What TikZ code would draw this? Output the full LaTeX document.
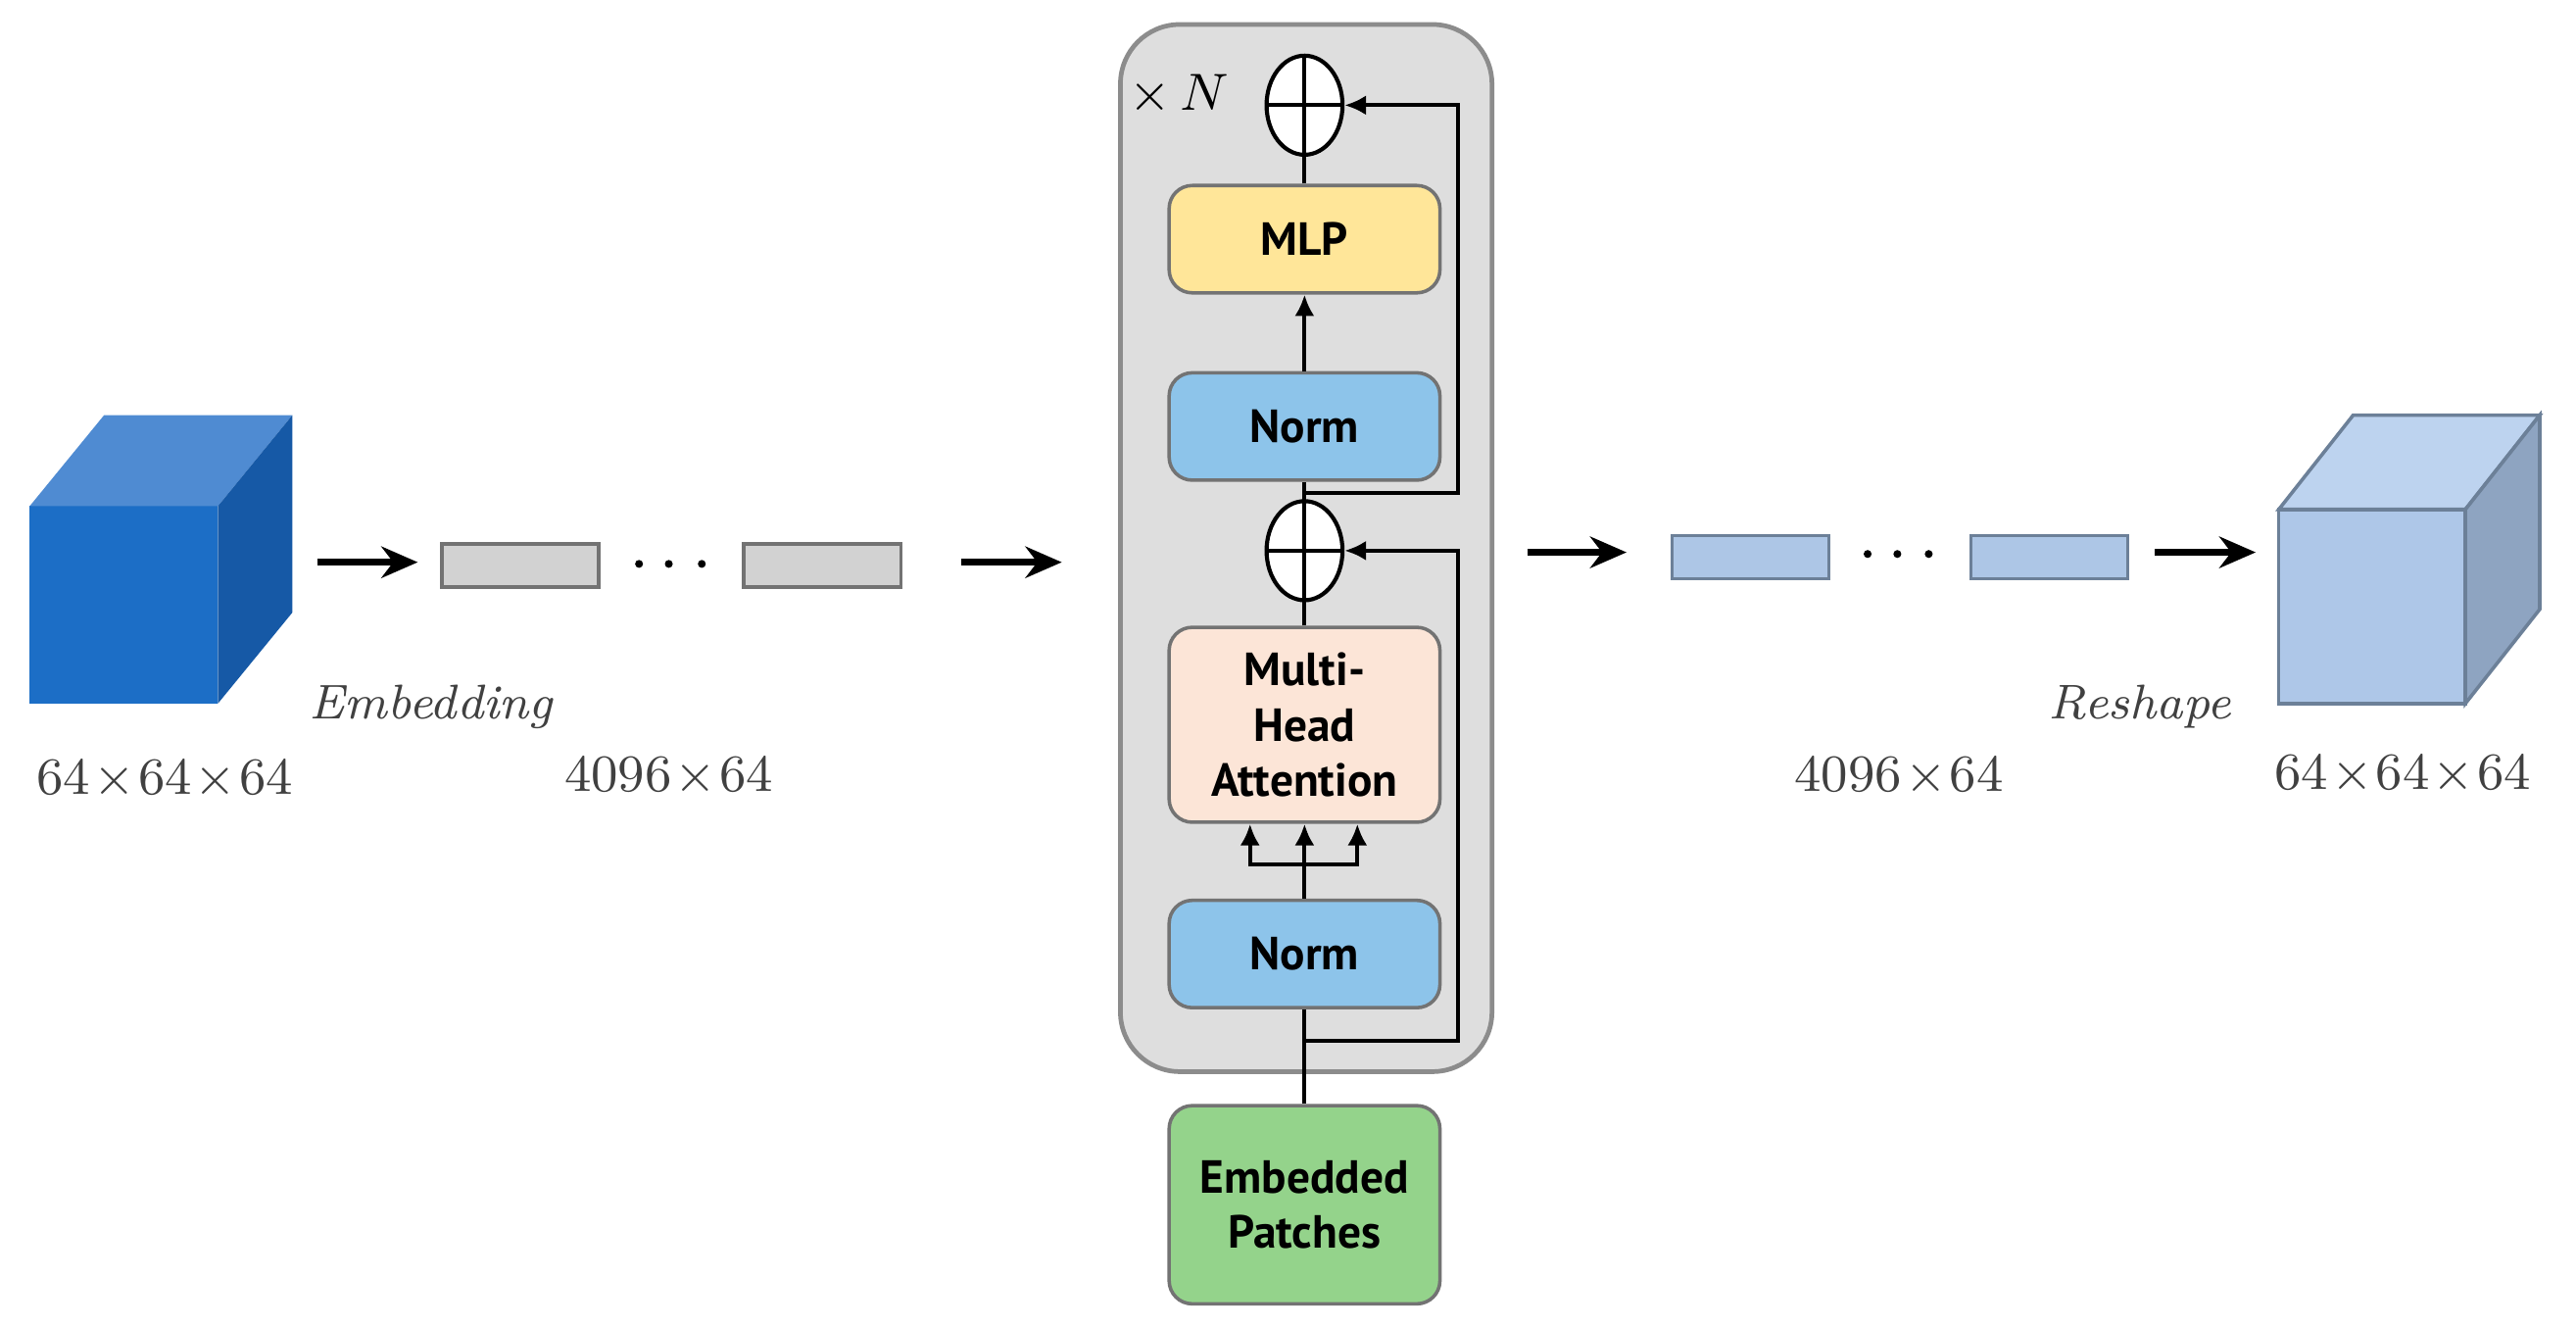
\documentclass[tikz,border=0pt]{standalone}
\usepackage{fontspec}
\newfontfamily\boxfont{PT Sans}
\usetikzlibrary{arrows.meta,shapes.geometric}
\definecolor{cubeFront}{HTML}{1C6EC6}
\definecolor{cubeTop}{HTML}{4F8BD2}
\definecolor{cubeSide}{HTML}{1659A6}
\definecolor{lcubeFront}{HTML}{AEC7E8}
\definecolor{lcubeTop}{HTML}{BDD3EF}
\definecolor{lcubeSide}{HTML}{8EA4C1}
\definecolor{lcubeEdge}{HTML}{6C8098}
\definecolor{barGray}{HTML}{D2D2D2}
\definecolor{barBlue}{HTML}{ADC6E6}
\definecolor{encGray}{HTML}{DEDEDE}
\definecolor{mlpYellow}{HTML}{FFE699}
\definecolor{normBlue}{HTML}{8DC4EA}
\definecolor{mhaPeach}{HTML}{FCE5D7}
\definecolor{embGreen}{HTML}{94D38B}
\begin{document}
\begin{tikzpicture}[x=1cm,y=1cm,
	layer/.style={draw=black!55,line width=0.6pt,rounded corners=0.14cm,minimum width=1.64cm,
		minimum height=0.65cm,align=center,inner sep=0pt,
		font=\boxfont\bfseries\fontsize{8}{9.6}\selectfont},
	addop/.style={ellipse,draw,fill=white,line width=0.7pt,minimum width=0.46cm,minimum height=0.60cm,inner sep=0pt},
	flow/.style={-{Stealth[length=2.2mm,width=1.9mm]},line width=1.1pt},
	link/.style={line width=0.7pt},
	linkarr/.style={link,-{Latex[length=1.3mm,width=1.2mm]}},
	graybar/.style={draw=black!55,fill=barGray,line width=0.6pt,minimum width=0.95cm,minimum height=0.26cm,inner sep=0pt},
	bluebar/.style={draw=lcubeEdge,fill=barBlue,line width=0.6pt,minimum width=0.95cm,minimum height=0.26cm,inner sep=0pt},
	lbl/.style={font=\fontsize{9}{11}\selectfont,text=black!75},
	ilbl/.style={font=\fontsize{8.4}{10}\selectfont\itshape,text=black!75}]
	\useasboundingbox (0,0) rectangle (15.6,8.034);
	\def\dx{0.45}
	\def\dy{0.55}
	% input volume
	\fill[cubeFront] (0.18,3.775) rectangle (1.32,4.97);
	\fill[cubeTop] (0.18,4.97) -- ++(\dx,\dy) -- ++(1.14,0) -- (1.32,4.97) -- cycle;
	\fill[cubeSide] (1.32,3.775) -- (1.32,4.97) -- ++(\dx,\dy) -- ++(0,-1.195) -- cycle;
	\node[lbl] (inDim) at (1.00,3.31) {$64\!\times\!64\!\times\!64$};
	\node[ilbl] (embLbl) at (2.61,3.755) {Embedding};
	\coordinate (a1s) at (1.92,4.63);
	\coordinate (a1e) at (2.53,4.63);
	\draw[flow] (a1s) -- (a1e);
	\node[graybar] (tok1) at (3.15,4.61) {};
	\node[graybar] (tok2) at (4.98,4.61) {};
	\foreach \x in {3.87,4.05,4.25} \fill (\x,4.62) circle (0.024);
	\node[lbl] (tokDim) at (4.05,3.33) {$4096\!\times\!64$};
	\coordinate (a2s) at (5.82,4.63);
	\coordinate (a2e) at (6.43,4.63);
	\draw[flow] (a2s) -- (a2e);
	% transformer encoder
	\node[draw=black!45,fill=encGray,line width=0.8pt,rounded corners=0.36cm,minimum width=2.25cm,
		minimum height=6.34cm] (enc) at (7.91,4.716) {};
	\node[font=\fontsize{9}{11}\selectfont] (rep) at (7.14,7.46) {$\times\,N$};
	\node[layer,fill=embGreen,minimum height=1.2cm] (emb) at (7.90,0.74) {Embedded\\Patches};
	\node[layer,fill=normBlue] (norm1) at (7.90,2.258) {Norm};
	\node[layer,fill=mhaPeach,minimum height=1.18cm] (mha) at (7.90,3.646) {Multi-\\Head\\Attention};
	\node[addop] (add1) at (7.90,4.70) {};
	\node[layer,fill=normBlue] (norm2) at (7.90,5.452) {Norm};
	\node[layer,fill=mlpYellow] (mlp) at (7.90,6.586) {MLP};
	\node[addop] (add2) at (7.90,7.397) {};
	\draw[link] (add1.north) -- (add1.south) (add1.west) -- (add1.east);
	\draw[link] (add2.north) -- (add2.south) (add2.west) -- (add2.east);
	\draw[link] (emb.north) -- (norm1.south);
	\coordinate (split) at (7.90,2.80);
	\draw[linkarr] (norm1.north) -- (mha.south);
	\draw[linkarr] (split) -| ([xshift=-0.33cm]mha.south);
	\draw[linkarr] (split) -| ([xshift=0.32cm]mha.south);
	\draw[link] (mha.north) -- (add1.south);
	\draw[link] (add1.north) -- (norm2.south);
	\draw[linkarr] (norm2.north) -- (mlp.south);
	\draw[link] (mlp.north) -- (add2.south);
	\coordinate (res1) at (7.90,1.73);
	\coordinate (res2) at (7.90,5.05);
	\draw[linkarr] (res1) -- (8.83,1.73) |- (add1.east);
	\draw[linkarr] (res2) -- (8.83,5.05) |- (add2.east);
	% output side
	\coordinate (a3s) at (9.25,4.69);
	\coordinate (a3e) at (9.85,4.69);
	\draw[flow] (a3s) -- (a3e);
	\node[bluebar] (out1) at (10.60,4.66) {};
	\node[bluebar] (out2) at (12.41,4.66) {};
	\foreach \x in {11.31,11.49,11.68} \fill (\x,4.68) circle (0.024);
	\node[lbl] (outDim) at (11.50,3.33) {$4096\!\times\!64$};
	\coordinate (a4s) at (13.05,4.69);
	\coordinate (a4e) at (13.66,4.69);
	\draw[flow] (a4s) -- (a4e);
	\node[ilbl] (resLbl) at (12.96,3.755) {Reshape};
	\draw[lcubeEdge,fill=lcubeFront,line width=0.6pt] (13.80,3.775) rectangle (14.93,4.95);
	\draw[lcubeEdge,fill=lcubeTop,line width=0.6pt] (13.80,4.95) -- ++(\dx,0.57) -- ++(1.13,0) -- (14.93,4.95) -- cycle;
	\draw[lcubeEdge,fill=lcubeSide,line width=0.6pt] (14.93,3.775) -- (14.93,4.95) -- ++(\dx,0.57) -- ++(0,-1.175) -- cycle;
	\node[lbl] (outVol) at (14.55,3.34) {$64\!\times\!64\!\times\!64$};
\end{tikzpicture}
\end{document}
